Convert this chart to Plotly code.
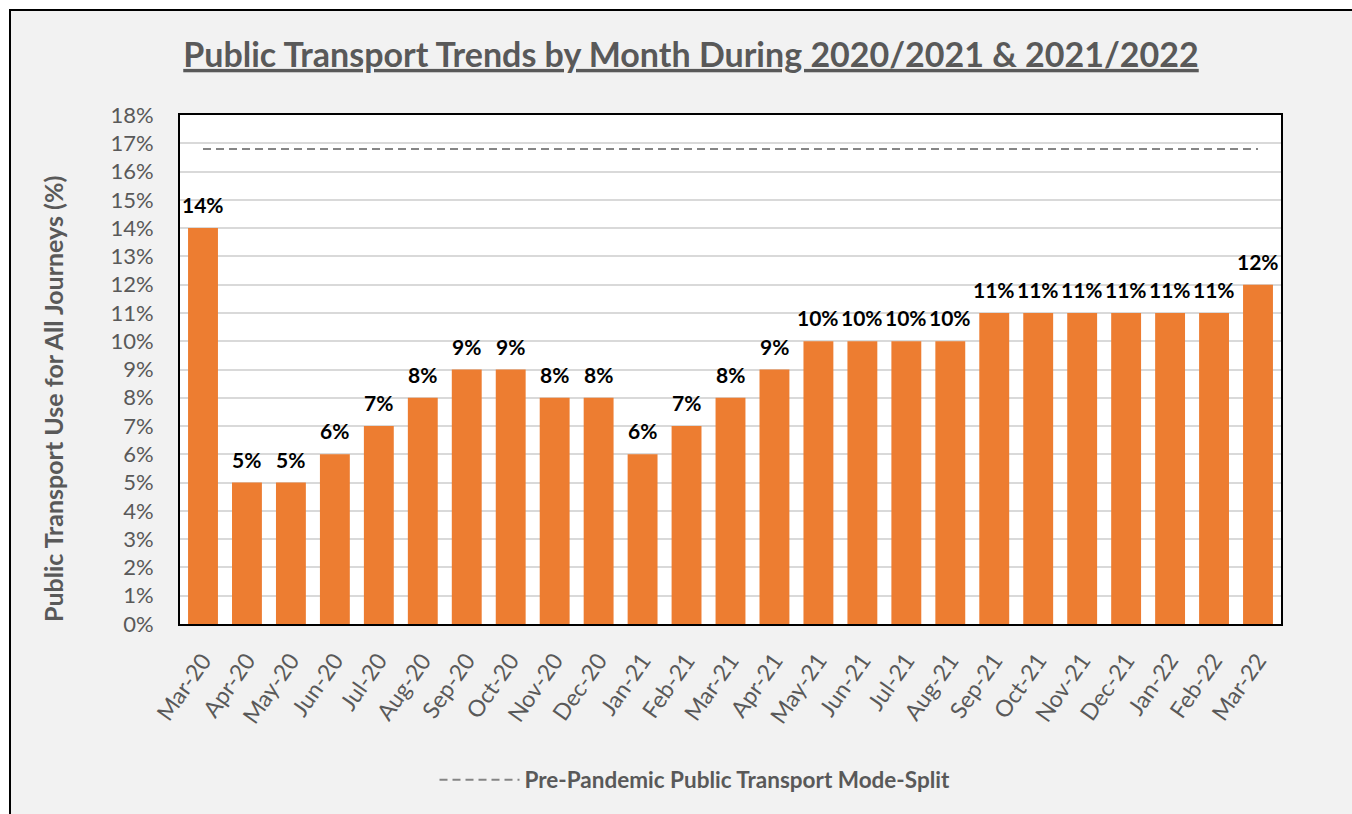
import plotly.graph_objects as go

months = ["Mar-20", "Apr-20", "May-20", "Jun-20", "Jul-20", "Aug-20", "Sep-20", "Oct-20",
          "Nov-20", "Dec-20", "Jan-21", "Feb-21", "Mar-21", "Apr-21", "May-21", "Jun-21",
          "Jul-21", "Aug-21", "Sep-21", "Oct-21", "Nov-21", "Dec-21", "Jan-22", "Feb-22", "Mar-22"]
usage_pct = [14, 5, 5, 6, 7, 8, 9, 9, 8, 8, 6, 7, 8, 9, 10, 10, 10, 10, 11, 11, 11, 11, 11, 11, 12]
pre_pandemic_pct = [16.8] * len(months)
y_ticks = list(range(0, 19))

FONT = "Lato"
GRAY = "#595959"

fig = go.Figure()
fig.add_trace(go.Bar(
    x=months, y=usage_pct, marker_color="#ED7D31", marker_line_width=0,
    width=0.68, showlegend=False, name="Public Transport Use", hoverinfo="x+y"))
fig.add_trace(go.Scatter(
    x=months, y=pre_pandemic_pct, mode="lines",
    line=dict(color="#858585", width=2, dash="8px,5px"),
    name="Pre-Pandemic Public Transport Mode-Split", showlegend=True))

for m, v in zip(months, usage_pct):
    fig.add_annotation(x=m, y=v, text=f"{v}%", showarrow=False, yanchor="bottom",
                       yshift=9, font=dict(family=FONT, size=21, color="black", weight="bold"))

L, R, T, B = 180, 71, 115, 190
PW, PH = 1352 - L - R, 814 - T - B

def px_x(p):
    return (p - L) / PW

def px_y(p):
    return (814 - B - p) / PH

fig.add_annotation(xref="paper", yref="paper", x=px_x(53), y=px_y(399),
                   xanchor="center", yanchor="middle", textangle=-90, showarrow=False,
                   text="Public Transport Use for All Journeys (%)",
                   font=dict(family=FONT, size=25, color=GRAY, weight="bold"))

fig.update_layout(
    width=1352, height=814,
    margin=dict(l=L, r=R, t=T, b=B),
    paper_bgcolor="white", plot_bgcolor="white",
    font=dict(family=FONT, color=GRAY),
    title=dict(text="<u>Public Transport Trends by Month During 2020/2021 &amp; 2021/2022</u>",
               x=691 / 1352, xref="container", xanchor="center",
               y=1 - 55 / 814, yref="container", yanchor="middle",
               font=dict(family=FONT, size=34, color=GRAY, weight="bold")),
    legend=dict(orientation="h", x=px_x(695), xanchor="center", y=px_y(780), yanchor="middle",
                itemwidth=80,
                font=dict(family=FONT, size=22.5, color=GRAY, weight="bold"),
                bgcolor="rgba(0,0,0,0)"),
    shapes=[
        dict(type="rect", xref="paper", yref="paper", x0=px_x(10), x1=px_x(1400),
             y0=px_y(900), y1=px_y(10), fillcolor="#f2f2f2",
             line=dict(color="black", width=2), layer="below"),
        dict(type="rect", xref="paper", yref="paper", x0=0, x1=1, y0=0, y1=1,
             fillcolor="white", line=dict(width=0), layer="below"),
    ],
)
fig.update_xaxes(
    tickangle=-55, tickfont=dict(family=FONT, size=23, color=GRAY),
    showline=True, linecolor="black", linewidth=2, mirror=True,
    showgrid=False, ticks="", ticklabelstandoff=12)
fig.update_yaxes(
    range=[0, 18], tickvals=y_ticks, ticktext=[f"{v}%" for v in y_ticks],
    tickfont=dict(family=FONT, size=22, color=GRAY),
    showline=True, linecolor="black", linewidth=2, mirror=True,
    showgrid=True, gridcolor="#d9d9d9", gridwidth=1.5, ticks="", ticklabelstandoff=20,
    zeroline=False)

fig.write_html("out.html", config={"displayModeBar": False},
               post_script="document.body.style.margin='0';document.body.style.overflow='hidden';")
